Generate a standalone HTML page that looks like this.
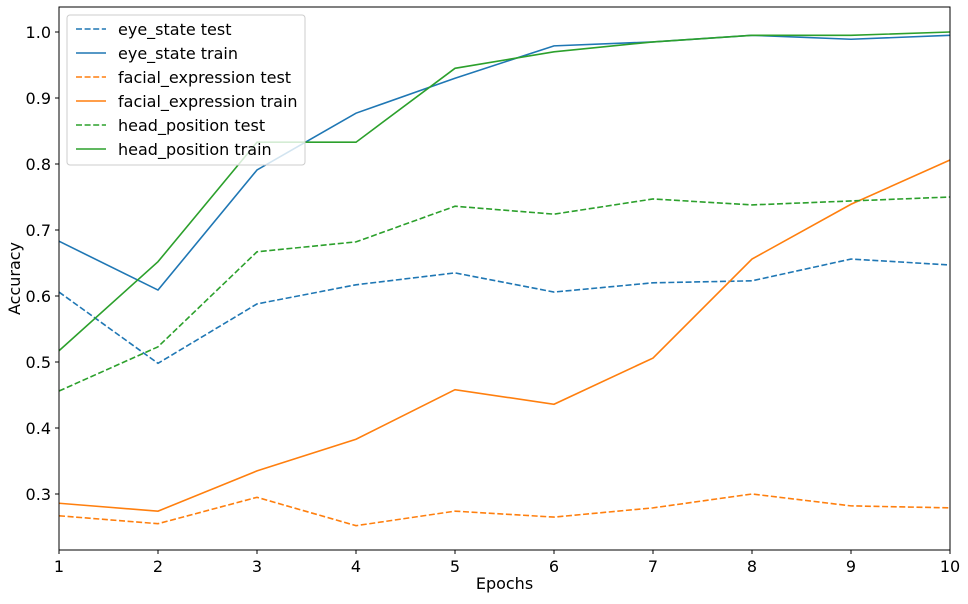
<!DOCTYPE html>
<html><head><meta charset="utf-8"><style>
html,body{margin:0;padding:0;background:#fff;}
svg text{font-family:"DejaVu Sans","Liberation Sans",sans-serif;font-size:16px;fill:#000;}
</style></head><body>
<svg id="chart" width="968" height="599" xmlns="http://www.w3.org/2000/svg"></svg>
<script>
const epochs=[1,2,3,4,5,6,7,8,9,10];
const eyeTest=[0.606,0.498,0.588,0.617,0.635,0.606,0.620,0.623,0.656,0.647];
const eyeTrain=[0.683,0.609,0.791,0.877,0.930,0.979,0.985,0.995,0.989,0.995];
const faceTest=[0.267,0.255,0.295,0.252,0.274,0.265,0.279,0.300,0.282,0.279];
const faceTrain=[0.286,0.274,0.335,0.383,0.458,0.436,0.506,0.656,0.739,0.806];
const headTest=[0.456,0.523,0.667,0.682,0.736,0.724,0.747,0.738,0.744,0.750];
const headTrain=[0.517,0.652,0.833,0.833,0.945,0.970,0.985,0.995,0.995,1.0];
const yTicks=[0.3,0.4,0.5,0.6,0.7,0.8,0.9,1.0];
const seriesNames=["eye_state test","eye_state train","facial_expression test","facial_expression train","head_position test","head_position train"];

const NS="http://www.w3.org/2000/svg";
const svg=document.getElementById('chart');
const L=59,R=950,T=7,B=550;
const x=v=>L+(v-1)/9*(R-L);
const y=v=>32+(1.0-v)*660;
function mk(tag,attrs,parent){const e=document.createElementNS(NS,tag);for(const k in attrs)e.setAttribute(k,attrs[k]);(parent||svg).appendChild(e);return e;}

const series=[
 {d:eyeTest,c:"#1f77b4",dash:true},{d:eyeTrain,c:"#1f77b4",dash:false},
 {d:faceTest,c:"#ff7f0e",dash:true},{d:faceTrain,c:"#ff7f0e",dash:false},
 {d:headTest,c:"#2ca02c",dash:true},{d:headTrain,c:"#2ca02c",dash:false}];
series.forEach((s,i)=>{
  const p=mk('polyline',{points:s.d.map((v,j)=>x(epochs[j])+','+y(v)).join(' '),fill:'none',stroke:s.c,'stroke-width':1.6,'stroke-dasharray':s.dash?'6,2.6':'none'});
  
  
});
const frame=mk('rect',{x:L,y:T,width:R-L,height:B-T,fill:'none',stroke:'#000','stroke-width':1});


epochs.forEach(e=>{
  mk('line',{x1:x(e),x2:x(e),y1:B,y2:B+4,stroke:'#000'});
  const t=mk('text',{x:x(e),y:B+22,'text-anchor':'middle'});t.textContent=e;
  
  
});
yTicks.forEach(v=>{
  mk('line',{x1:L-4,x2:L,y1:y(v),y2:y(v),stroke:'#000'});
  const t=mk('text',{x:L-8,y:y(v)+6,'text-anchor':'end'});t.textContent=v.toFixed(1);
  
  
});
const xt=mk('text',{x:(L+R)/2,y:589,'text-anchor':'middle'});xt.textContent='Epochs';


const yt=mk('text',{x:20,y:(T+B)/2,'text-anchor':'middle',transform:'rotate(-90 20 '+(T+B)/2+')'});yt.textContent='Accuracy';


const lg=mk('g',{});


mk('rect',{x:67,y:15,width:238,height:150,rx:3,fill:'#fff','fill-opacity':0.8,stroke:'#ccc'},lg);
series.forEach((s,i)=>{
  const yy=29+i*24;
  mk('line',{x1:76,x2:106,y1:yy,y2:yy,stroke:s.c,'stroke-width':1.6,'stroke-dasharray':s.dash?'6,2.6':'none'},lg);
  const t=mk('text',{x:118,y:yy+6},lg);t.textContent=seriesNames[i];
  
  
});
</script>
</body></html>
